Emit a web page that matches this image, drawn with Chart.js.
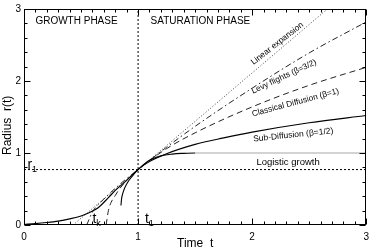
<!DOCTYPE html>
<html><head><meta charset="utf-8">
<script src="https://cdn.jsdelivr.net/npm/chart.js@4/dist/chart.umd.min.js"></script>
<style>html,body{margin:0;padding:0;background:#fff}canvas{display:block}</style>
</head><body>
<canvas id="c" width="375" height="251"></canvas>
<script>
// ---- data ----
const xTicks = [0, 1, 2, 3];
const yTicks = [0, 1, 2, 3];
const t1 = 1.0;
const r1 = 0.77;
const tLogistic = [0, 0.1, 0.2, 0.3, 0.4, 0.5, 0.57, 0.65, 0.74, 0.8, 0.9, 1.0, 1.09, 1.2, 1.3, 1.4, 1.5, 2.0, 2.5, 3.0];
const rLogistic = [0.01, 0.02, 0.035, 0.055, 0.085, 0.125, 0.17, 0.24, 0.38, 0.48, 0.62, 0.77, 0.89, 0.96, 0.985, 0.995, 1.0, 1.0, 1.0, 1.0];
const tSub = [0.85, 0.855, 0.87, 0.9, 0.95, 1.0, 1.1, 1.25, 1.5, 1.75, 2.0, 2.5, 3.0];
const rSub = [0.27, 0.36, 0.46, 0.57, 0.68, 0.77, 0.88, 0.99, 1.12, 1.21, 1.29, 1.42, 1.52];
const tClassical = [0.72, 0.74, 0.8, 0.9, 1.0, 1.25, 1.5, 2.0, 2.5, 3.0];
const rClassical = [0, 0.2, 0.41, 0.62, 0.77, 1.06, 1.28, 1.64, 1.94, 2.19];
const tLevy = [0.55, 0.6, 0.7, 0.8, 0.9, 1.0, 1.25, 1.5, 2.0, 2.5, 3.0];
const rLevy = [0, 0.18, 0.36, 0.51, 0.645, 0.77, 1.08, 1.37, 1.9, 2.39, 2.82];
const tLinear = [0.43, 2.66];
const rLinear = [0, 3.0];

// ---- presentation ----
const ff = "'Liberation Sans', Arial, Helvetica, sans-serif";
const pts = (ts, rs) => ts.map((t, i) => ({x: t, y: rs[i]}));

const notes = [
  {text: 'GROWTH PHASE', t: 0.10, r: 2.83, angle: 0, align: 'left', size: 10},
  {text: 'SATURATION PHASE', t: 1.11, r: 2.83, angle: 0, align: 'left', size: 10},
  {text: 'Linear expansion', t: 2.22, r: 2.52, angle: -38, align: 'center', size: 8.4},
  {text: 'Levy flights (\u03b2=3/2)', t: 2.28, r: 2.06, angle: -25, align: 'center', size: 8.3},
  {text: 'Classical Diffusion (\u03b2=1)', t: 2.38, r: 1.70, angle: -15, align: 'center', size: 8.3},
  {text: 'Sub-Diffusion (\u03b2=1/2)', t: 2.36, r: 1.25, angle: -6, align: 'center', size: 8.5},
  {text: 'Logistic growth', t: 2.315, r: 0.875, angle: 0, align: 'center', size: 9.5}
];
const subLabels = [
  {main: 'r', sub: '1', t: 0.03, r: 0.78},
  {main: 't', sub: '1', t: 1.06, r: 0.03},
  {main: 't', sub: 'k', t: 0.60, r: 0.03}
];

const framePlugin = {
  id: 'frame',
  afterDraw(ch) {
    const {ctx, chartArea: a, scales: {x, y}} = ch;
    ctx.save();
    ctx.strokeStyle = '#000';
    ctx.lineWidth = 1;
    const L = Math.round(a.left) + 0.5, R = Math.round(a.right) - 0.5;
    const T = Math.round(a.top) + 0.5, B = Math.round(a.bottom) - 0.5;
    ctx.strokeRect(L, T, R - L, B - T);
    ctx.beginPath();
    for (let i = 0; i <= 30; i++) {
      const px = Math.round(x.getPixelForValue(i / 10)) + 0.5;
      const len = i % 10 === 0 ? 6 : 3;
      ctx.moveTo(px, B); ctx.lineTo(px, B - len);
      ctx.moveTo(px, T); ctx.lineTo(px, T + len);
    }
    for (let i = 0; i <= 15; i++) {
      const py = Math.round(y.getPixelForValue(i / 5)) + 0.5;
      const len = i % 5 === 0 ? 6 : 3;
      ctx.moveTo(L, py); ctx.lineTo(L + len, py);
      ctx.moveTo(R, py); ctx.lineTo(R - len, py);
    }
    ctx.stroke();
    // text annotations
    ctx.fillStyle = '#000';
    notes.forEach(n => {
      ctx.save();
      ctx.translate(x.getPixelForValue(n.t), y.getPixelForValue(n.r));
      ctx.rotate(n.angle * Math.PI / 180);
      ctx.font = n.size + 'px ' + ff;
      ctx.textAlign = n.align;
      ctx.textBaseline = 'middle';
      ctx.fillText(n.text, 0, 0);
      ctx.restore();
    });
    subLabels.forEach(s => {
      const px = x.getPixelForValue(s.t), py = y.getPixelForValue(s.r);
      ctx.font = '14px ' + ff;
      ctx.textAlign = 'left';
      ctx.textBaseline = 'alphabetic';
      ctx.fillText(s.main, px, py);
      const w = ctx.measureText(s.main).width;
      ctx.font = '9px ' + ff;
      ctx.fillText(s.sub, px + w, py + 3);
    });
    ctx.restore();
  }
};

const guide = {borderColor: '#000', borderWidth: 1, borderDash: [2, 2], cubicInterpolationMode: 'default', tension: 0};

new Chart(document.getElementById('c'), {
  type: 'line',
  data: {
    datasets: [
      {label: 'Logistic growth', data: pts(tLogistic, rLogistic), borderColor: '#000', borderWidth: 1.2,
        segment: {borderColor: c => (c.p0.parsed.x >= 1.45 ? '#a8a8a8' : '#000')}},
      {label: 'Sub-Diffusion', data: pts(tSub, rSub), borderColor: '#000', borderWidth: 1.1},
      {label: 'Classical Diffusion', data: pts(tClassical, rClassical), borderColor: '#222', borderWidth: 1, borderDash: [6, 4]},
      {label: 'Levy flights', data: pts(tLevy, rLevy), borderColor: '#222', borderWidth: 1, borderDash: [6, 3, 1.5, 3]},
      {label: 'Linear expansion', data: pts(tLinear, rLinear), borderColor: '#444', borderWidth: 1, borderDash: [1, 2], cubicInterpolationMode: 'default', tension: 0},
      Object.assign({label: 't1', data: [{x: t1, y: 0}, {x: t1, y: 3}]}, guide),
      Object.assign({label: 'r1', data: [{x: 0, y: r1}, {x: 3, y: r1}]}, guide)
    ]
  },
  options: {
    responsive: false,
    animation: false,
    devicePixelRatio: 1,
    layout: {padding: {left: 0, right: 5, top: 2, bottom: 0}},
    plugins: {legend: {display: false}, tooltip: {enabled: false}},
    elements: {point: {radius: 0}, line: {cubicInterpolationMode: 'monotone', fill: false}},
    scales: {
      x: {
        type: 'linear', min: 0, max: 3,
        afterBuildTicks: s => { s.ticks = xTicks.map(v => ({value: v})); },
        grid: {display: false, drawTicks: false}, border: {display: false},
        ticks: {font: {family: ff, size: 10}, color: '#000', padding: 6, maxRotation: 0, autoSkip: false},
        title: {display: true, text: 'Time  t', font: {family: ff, size: 12}, color: '#000', padding: {top: 0, bottom: 0}},
        afterFit: s => { s.height = 26; }
      },
      y: {
        type: 'linear', min: 0, max: 3,
        afterBuildTicks: s => { s.ticks = yTicks.map(v => ({value: v})); },
        grid: {display: false, drawTicks: false}, border: {display: false},
        ticks: {font: {family: ff, size: 10}, color: '#000', padding: 3, autoSkip: false},
        title: {display: true, text: 'Radius  r(t)     ', font: {family: ff, size: 12}, color: '#000', padding: {top: 0, bottom: 0}},
        afterFit: s => { s.width = 24; }
      }
    }
  },
  plugins: [framePlugin]
});
</script>
</body></html>
